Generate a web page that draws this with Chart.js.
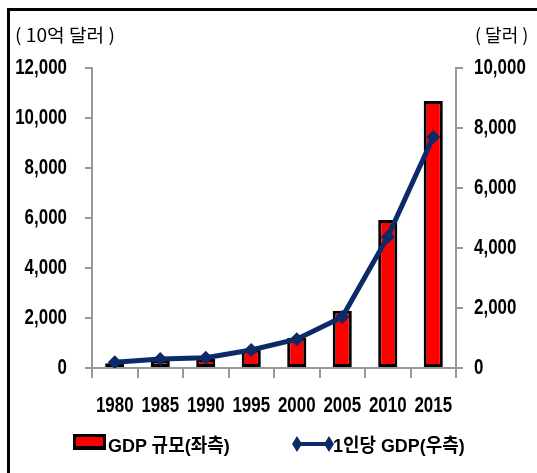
<!DOCTYPE html>
<html>
<head>
<meta charset="utf-8">
<script src="https://cdn.jsdelivr.net/npm/chart.js@4.4.1/dist/chart.umd.min.js"></script>
<style>
  body { margin: 0; background: #fff; }
  #wrap { position: relative; width: 537px; height: 473px; overflow: hidden; }
  #frame { position: absolute; left: 7px; top: 8px; right: -10px; bottom: -10px; border-left: 3px solid #000; border-top: 3px solid #000; }
  .unit { position: absolute; top: 21px; font: 18px "Noto Sans CJK KR", sans-serif; color: #000; white-space: nowrap; transform-origin: left top; }
  .leg { position: absolute; top: 436px; font: bold 19px "Liberation Sans", "Noto Sans CJK KR", sans-serif; line-height: 20px; color: #000; white-space: nowrap; transform-origin: left top; }
  #box { position: absolute; left: 73px; top: 434px; width: 33px; height: 16px; box-sizing: border-box; background: #ff0000; border: 3px solid #000; border-bottom-width: 4px; }
</style>
</head>
<body>
<div id="wrap">
  <canvas id="c" width="537" height="473"></canvas>
  <div id="frame"></div>
  <div class="unit" id="unitL" style="left:15px">( 10억 달러 )</div>
  <div class="unit" id="unitR" style="left:475px">( 달러 )</div>
  <div id="box"></div>
  <div class="leg" id="leg1" style="left:108px">GDP 규모(좌측)</div>
  <svg style="position:absolute;left:292px;top:436px" width="42" height="16">
    <line x1="5" y1="8" x2="37" y2="8" stroke="#0c2a68" stroke-width="4"/>
    <polygon points="0,8 5,0 10,8 5,16" fill="#0c2a68"/>
    <polygon points="32,8 37,0 42,8 37,16" fill="#0c2a68"/>
  </svg>
  <div class="leg" id="leg2" style="left:333px">1인당 GDP(우측)</div>
</div>
<script>
const years = ['1980', '1985', '1990', '1995', '2000', '2005', '2010', '2015'];
const gdpTotal = [190, 310, 360, 730, 1210, 2290, 5920, 10680];   // 10억 달러, left axis
const gdpPerCapita = [190, 300, 340, 600, 960, 1700, 4370, 7700]; // 달러, right axis

const axisGrey = '#989898';
const hidden = 'rgba(0,0,0,0)';

// squeeze html text to the widths in the picture
function fitWidth(id, w) {
    const el = document.getElementById(id);
    el.style.transform = 'scaleX(' + (w / el.offsetWidth) + ')';
}
fitWidth('leg1', 122);
fitWidth('leg2', 132);
fitWidth('unitL', 100);
fitWidth('unitR', 53);

// tick labels in the picture are a tall narrow bold face, so draw them squeezed
const narrowTicks = {
    id: 'narrowTicks',
    afterDraw(chart) {
        const c = chart.ctx;
        const squeeze = 0.77;
        c.save();
        c.fillStyle = '#000';
        c.font = 'bold 22px "Liberation Sans", Arial, sans-serif';
        c.textBaseline = 'middle';
        function put(text, x, y, align) {
            const w = c.measureText(text).width * squeeze;
            let left = x;
            if (align === 'right') left = x - w;
            if (align === 'center') left = x - w / 2;
            c.save();
            c.translate(left, y);
            c.scale(squeeze, 1);
            c.textAlign = 'left';
            c.fillText(text, 0, 0);
            c.restore();
        }
        const xs = chart.scales.x;
        xs.ticks.forEach((t, i) => put(xs.getLabelForValue(t.value), xs.getPixelForTick(i), 406, 'center'));
        const yl = chart.scales.y;
        yl.ticks.forEach((t, i) => put(t.label, 67, yl.getPixelForTick(i), 'right'));
        const yr = chart.scales.y1;
        yr.ticks.forEach((t, i) => put(t.label, 474, yr.getPixelForTick(i), 'left'));
        c.restore();
    }
};

const ctx = document.getElementById('c').getContext('2d');

new Chart(ctx, {
    data: {
        labels: years,
        datasets: [
            {
                type: 'line',
                label: '1인당 GDP(우측)',
                data: gdpPerCapita,
                yAxisID: 'y1',
                borderColor: '#0c2a68',
                backgroundColor: '#0c2a68',
                borderWidth: 5,
                pointStyle: 'rectRot',
                pointRadius: 7,
                pointBorderWidth: 0,
                tension: 0,
                order: 0
            },
            {
                type: 'bar',
                label: 'GDP 규모(좌측)',
                data: gdpTotal,
                yAxisID: 'y',
                backgroundColor: '#ff0000',
                borderColor: '#000',
                borderWidth: 3,
                borderSkipped: false,
                categoryPercentage: 1,
                barPercentage: 0.42,
                order: 1
            }
        ]
    },
    options: {
        responsive: false,
        animation: false,
        layout: { padding: { top: 68, left: 0, right: 0, bottom: 0 } },
        plugins: {
            legend: { display: false },
            tooltip: { enabled: false }
        },
        scales: {
            x: {
                grid: { offset: true, drawOnChartArea: false, color: axisGrey, lineWidth: 2, tickLength: 10 },
                border: { color: axisGrey, width: 2 },
                ticks: { color: hidden, maxRotation: 0, autoSkip: false },
                afterFit: (s) => { s.height = 105; }
            },
            y: {
                position: 'left',
                min: 0,
                max: 12000,
                grid: { drawOnChartArea: false, color: axisGrey, lineWidth: 2, tickLength: 7 },
                border: { color: axisGrey, width: 2 },
                ticks: { stepSize: 2000, color: hidden },
                afterFit: (s) => { s.width = 92; }
            },
            y1: {
                position: 'right',
                min: 0,
                max: 10000,
                grid: { drawOnChartArea: false, color: axisGrey, lineWidth: 2, tickLength: 7 },
                border: { color: axisGrey, width: 2 },
                ticks: { stepSize: 2000, color: hidden },
                afterFit: (s) => { s.width = 81; }
            }
        }
    },
    plugins: [narrowTicks]
});
</script>
</body>
</html>
